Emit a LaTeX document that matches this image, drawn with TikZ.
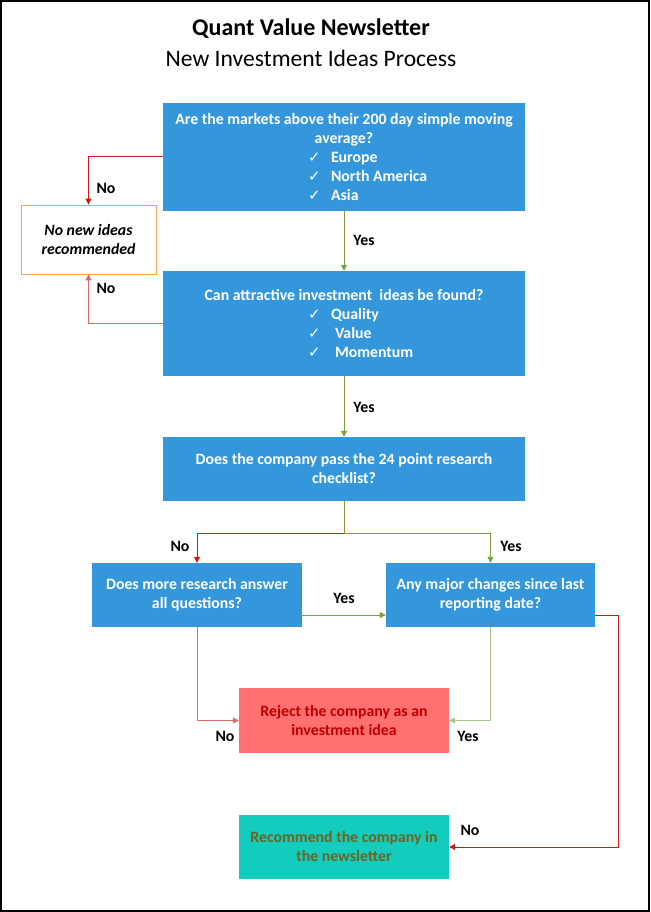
\documentclass[tikz,border=0pt]{standalone}
\usepackage{fontspec}
\setmainfont{Carlito}
\newfontfamily\chkfont{DejaVu Sans}
\usetikzlibrary{arrows.meta}
\definecolor{boxblue}{HTML}{3597DB}
\definecolor{rejfill}{HTML}{FF7070}
\definecolor{rejtext}{HTML}{C00000}
\definecolor{recfill}{HTML}{12CDBE}
\definecolor{rectext}{HTML}{6B6420}
\definecolor{noborder}{HTML}{F8A050}
\definecolor{lnred}{HTML}{D01818}
\definecolor{lnredl}{HTML}{E06868}
\definecolor{lngreen}{HTML}{7BA03C}
\definecolor{lngreenl}{HTML}{A9C788}
\newcommand{\chk}[2]{\makebox[72pt][l]{\makebox[#1pt][l]{\chkfont\fontsize{15}{19}\selectfont\mdseries ✓}#2}}
\tikzset{
  x=1pt, y=-1pt,
  txt/.style={font=\fontsize{15.8}{19}\selectfont\bfseries, align=center},
  bluebox/.style={txt, fill=boxblue, text=white, inner sep=0pt},
  rejbox/.style={txt, fill=rejfill, text=rejtext, inner sep=0pt},
  recbox/.style={txt, fill=recfill, text=rectext, inner sep=0pt},
  nobox/.style={txt, draw=noborder, line width=0.9pt, fill=white, inner sep=0pt, font=\fontsize{15.8}{19}\selectfont\bfseries\itshape},
  lbl/.style={font=\fontsize{15.8}{18}\selectfont\bfseries, inner sep=0pt},
  conn/.style={line width=1pt, -{Triangle[length=6pt,width=6pt]}},
  plain/.style={line width=1pt}
}
\begin{document}
\begin{tikzpicture}
\useasboundingbox (0,0) rectangle (650,912);
\draw[line width=2pt] (1,1) rectangle (649,911);
\node[font=\fontsize{24}{28}\selectfont\bfseries] (title) at (311,29) {Quant Value Newsletter};
\node[font=\fontsize{23.6}{28}\selectfont] (sub) at (311,58) {New Investment Ideas Process};

\node[bluebox, minimum width=362pt, minimum height=107pt] (q1) at (344,157)
 {Are the markets above their 200 day simple moving\\average?\\\chk{23}{Europe}\\\chk{23}{North America}\\\chk{23}{Asia}};
\node[nobox, minimum width=135pt, minimum height=69pt] (nob) at (88.5,239.5) {No new ideas\\recommended};
\node[bluebox, minimum width=362pt, minimum height=105pt] (q2) at (344,323.5)
 {Can attractive investment~ ideas be found?\\\chk{23}{Quality}\\\chk{27}{Value}\\\chk{27}{Momentum}};
\node[bluebox, minimum width=362pt, minimum height=64pt] (q3) at (344,469)
 {Does the company pass the 24 point research\\checklist?};
\node[bluebox, minimum width=210pt, minimum height=64pt] (q4) at (197,595)
 {Does more research answer\\all questions?};
\node[bluebox, minimum width=209pt, minimum height=64pt] (q5) at (490.5,595)
 {Any major changes since last\\reporting date?};
\node[rejbox, minimum width=210pt, minimum height=65pt] (rej) at (344,720.5)
 {Reject the company as an\\investment idea};
\node[recbox, minimum width=210pt, minimum height=64pt] (rec) at (344,847)
 {Recommend the company in\\the newsletter};

\coordinate (j) at (344,533);
\coordinate (rc) at (618,615);

\draw[conn, lnred] (q1.west) -| (nob.north);
\draw[conn, lnredl] (q2.west) -| (nob.south);
\draw[conn, lngreen] (q1.south) -- (q2.north);
\draw[conn, lngreen] (q2.south) -- (q3.north);
\draw[plain, lngreen] (q3.south) -- (j);
\draw[conn, lnred] (j) -| (q4.north);
\draw[conn, lngreen] (j) -| (q5.north);
\draw[conn, lngreen] ([yshift=-20pt]q4.east) -- ([yshift=-20pt]q5.west);
\draw[conn, lnredl] (q4.south) |- (rej.west);
\draw[conn, lngreenl] (q5.south) |- (rej.east);
\draw[conn, lnred] ([yshift=-20pt]q5.east) -| (rc) |- (rec.east);

\node[lbl] (l1) at (106,188) {No};
\node[lbl] (l2) at (364,240) {Yes};
\node[lbl] (l3) at (106,288) {No};
\node[lbl] (l4) at (364,407) {Yes};
\node[lbl] (l5) at (180,546) {No};
\node[lbl] (l6) at (511,546) {Yes};
\node[lbl] (l7) at (344,598) {Yes};
\node[lbl] (l8) at (225,736) {No};
\node[lbl] (l9) at (468,736) {Yes};
\node[lbl] (l10) at (470,830) {No};
\end{tikzpicture}
\end{document}
